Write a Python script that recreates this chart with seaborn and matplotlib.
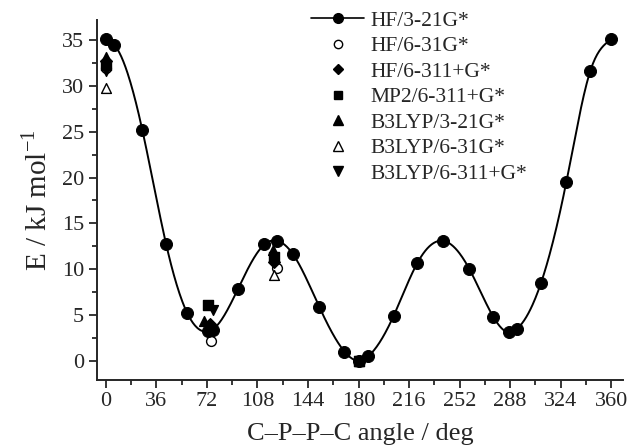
import numpy as np
import pandas as pd
import seaborn as sns
import matplotlib
matplotlib.use("Agg")
import matplotlib.pyplot as plt
from matplotlib.lines import Line2D
from matplotlib.ticker import MultipleLocator

# HF/3-21G* scan
scan_angle = [0, 6, 26, 43, 58, 73, 76, 94, 113, 122, 133, 152, 170, 180, 187,
              205, 222, 240, 259, 276, 287, 293, 310, 328, 345, 360]
scan_energy = [35.1, 34.5, 25.2, 12.7, 5.2, 3.2, 3.4, 7.8, 12.7, 13.1, 11.7, 5.9, 1.0,
               0.0, 0.5, 4.9, 10.7, 13.1, 10.0, 4.8, 3.1, 3.5, 8.5, 19.5, 31.6, 35.1]

# single points of the other methods
hf631_angle = [0, 75, 122, 180]
hf631_energy = [32.0, 2.1, 10.1, 0.0]
hf6311_angle = [0, 74, 120, 180]
hf6311_energy = [32.7, 4.0, 10.8, 0.0]
mp2_angle = [0, 73, 120, 180]
mp2_energy = [32.3, 6.1, 11.3, 0.0]
b3_321_angle = [0, 70, 119, 180]
b3_321_energy = [33.2, 4.3, 12.1, 0.0]
b3_631_angle = [0, 74, 120, 180]
b3_631_energy = [29.8, 3.9, 9.4, 0.0]
b3_6311_angle = [0, 76, 120, 180]
b3_6311_energy = [31.6, 5.5, 11.2, 0.0]


def natural_spline(x, y, xs):
    """Natural cubic spline through (x, y), evaluated at xs."""
    x = np.asarray(x, float)
    y = np.asarray(y, float)
    n = len(x)
    h = np.diff(x)
    A = np.zeros((n, n))
    b = np.zeros(n)
    A[0, 0] = A[-1, -1] = 1
    for i in range(1, n - 1):
        A[i, i - 1] = h[i - 1]
        A[i, i] = 2 * (h[i - 1] + h[i])
        A[i, i + 1] = h[i]
        b[i] = 3 * ((y[i + 1] - y[i]) / h[i] - (y[i] - y[i - 1]) / h[i - 1])
    c = np.linalg.solve(A, b)
    idx = np.clip(np.searchsorted(x, xs) - 1, 0, n - 2)
    dx = xs - x[idx]
    bb = (y[idx + 1] - y[idx]) / h[idx] - h[idx] * (2 * c[idx] + c[idx + 1]) / 3
    d = (c[idx + 1] - c[idx]) / (3 * h[idx])
    return y[idx] + bb * dx + c[idx] * dx ** 2 + d * dx ** 3


sns.set_style("ticks")
plt.rcParams["font.family"] = ["Liberation Serif", "DejaVu Serif"]
plt.rcParams["mathtext.fontset"] = "stix"

fig = plt.figure(figsize=(6.32, 4.47), dpi=100)
ax = fig.add_axes([0.153, 0.15, 0.833, 0.805])

xs = np.linspace(0, 360, 721)
curve = pd.DataFrame({"angle": xs, "E": natural_spline(scan_angle, scan_energy, xs)})
sns.lineplot(data=curve, x="angle", y="E", ax=ax, color="black", lw=1.4, legend=False)

scan = pd.DataFrame({"angle": scan_angle, "E": scan_energy})
sns.scatterplot(data=scan, x="angle", y="E", ax=ax, marker="o", s=75,
                color="black", edgecolor="black", zorder=5)

# open markers first, filled ones on top (as in the original)
series = [
    (hf631_angle, hf631_energy, "o", "white"),
    (b3_631_angle, b3_631_energy, "^", "white"),
    (b3_321_angle, b3_321_energy, "^", "black"),
    (hf6311_angle, hf6311_energy, "D", "black"),
    (mp2_angle, mp2_energy, "s", "black"),
    (b3_6311_angle, b3_6311_energy, "v", "black"),
]
for ang, en, mk, fc in series:
    df = pd.DataFrame({"angle": ang, "E": en})
    sz = 35 if mk == "D" else 50
    sns.scatterplot(data=df, x="angle", y="E", ax=ax, marker=mk, s=sz,
                    color=fc, edgecolor="black", linewidth=1.0, zorder=4)

ax.set_xlim(-6.5, 368.5)
ax.set_ylim(-2.1, 37.2)
ax.xaxis.set_major_locator(MultipleLocator(36))
ax.xaxis.set_minor_locator(MultipleLocator(18))
ax.yaxis.set_major_locator(MultipleLocator(5))
ax.yaxis.set_minor_locator(MultipleLocator(2.5))
ax.tick_params(which="major", direction="out", length=6, width=1.3, labelsize=16, pad=3)
ax.tick_params(which="minor", direction="out", length=3.5, width=1.3)
for side in ["top", "right"]:
    ax.spines[side].set_visible(False)
for side in ["left", "bottom"]:
    ax.spines[side].set_linewidth(1.4)

ax.set_xlabel("C\u2013P\u2013P\u2013C angle / deg", fontsize=19, labelpad=8)
ax.set_ylabel(r"E / kJ mol$^{\mathregular{-1}}$", fontsize=21, labelpad=6)

handles = [
    Line2D([], [], color="black", lw=1.2, marker="o", ms=7),
    Line2D([], [], ls="none", marker="o", ms=6, mfc="white", mec="black"),
    Line2D([], [], ls="none", marker="D", ms=5.5, color="black"),
    Line2D([], [], ls="none", marker="s", ms=6, color="black"),
    Line2D([], [], ls="none", marker="^", ms=7, color="black"),
    Line2D([], [], ls="none", marker="^", ms=7, mfc="white", mec="black"),
    Line2D([], [], ls="none", marker="v", ms=7, color="black"),
]
labels = ["HF/3-21G*", "HF/6-31G*", "HF/6-311+G*", "MP2/6-311+G*",
          "B3LYP/3-21G*", "B3LYP/6-31G*", "B3LYP/6-311+G*"]
ax.legend(handles, labels, loc="upper left", bbox_to_anchor=(0.39, 1.05),
          frameon=False, fontsize=15.5, handlelength=2.5, handletextpad=0.3,
          labelspacing=0.25, borderaxespad=0)

fig.savefig("out.png", dpi=100)
